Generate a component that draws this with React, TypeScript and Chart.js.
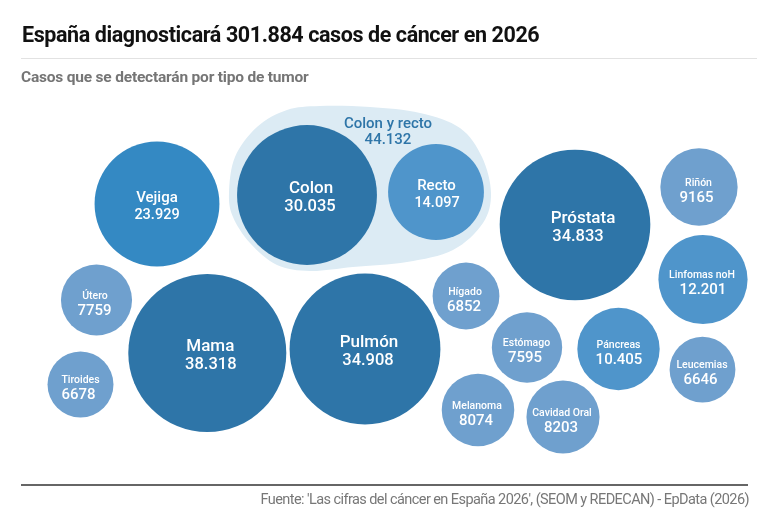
import React, { useEffect, useRef } from "react";
import { Chart, registerables } from "chart.js";

Chart.register(...registerables);

const titleText = "España diagnosticará 301.884 casos de cáncer en 2026";
const subtitleText = "Casos que se detectarán por tipo de tumor";
const sourceText = "Fuente: 'Las cifras del cáncer en España 2026', (SEOM y REDECAN) - EpData (2026)";

const tumors = ["Vejiga", "Colon", "Recto", "Próstata", "Riñón", "Linfomas noH", "Leucemias", "Páncreas", "Estómago", "Hígado", "Melanoma", "Cavidad Oral", "Pulmón", "Mama", "Útero", "Tiroides"];
const cases = [23929, 30035, 14097, 34833, 9165, 12201, 6646, 10405, 7595, 6852, 8074, 8203, 34908, 38318, 7759, 6678];
const caseLabels = ["23.929", "30.035", "14.097", "34.833", "9165", "12.201", "6646", "10.405", "7595", "6852", "8074", "8203", "34.908", "38.318", "7759", "6678"];
const layoutX = [157, 307, 436, 575, 699, 703, 702.5, 618.5, 527, 466, 478, 563, 365, 207.3, 96.5, 80.5];
const layoutY = [204, 195, 192, 225, 187, 279.5, 369.7, 349, 347.5, 296, 410, 417, 349, 353, 300, 384.5];
const nameNudgeX = [0, 4, 0.5, 8, -0.5, -1, -0.5, 0, -0.5, -1, -1, -1, 4, 3, -1.5, 0];
const valueNudgeX = [0, 3, 1, 3, -2.5, 0, -2, 0.5, -2, -2, -2, -2, 3, 3.5, -2, -2];

const groupLabel = "Colon y recto";
const groupValue = "44.132";
const groupOutlineX = [229, 235, 257, 287, 320, 370, 420, 460, 482, 491, 483, 453, 407, 353, 310, 277, 250, 233];
const groupOutlineY = [193, 157, 127, 110, 106, 107, 113, 128, 157, 193, 223, 250, 262, 267, 271, 265, 243, 217];

const RADIUS_PER_ROOT = 0.4036;
const FONT = "Roboto, 'Liberation Sans', sans-serif";

function tierColor(v: number) {
  if (v >= 30000) return "#2e75a8";
  if (v >= 20000) return "#3489c3";
  if (v >= 10000) return "#4f95cb";
  return "#6fa0ce";
}

function labelFonts(v: number) {
  if (v >= 30000) return { label: 17, value: 16.5, up: 6, down: 11.5 };
  if (v >= 14000) return { label: 15, value: 14.5, up: 6, down: 11.5 };
  return { label: 10.5, value: 15, up: 4, down: 11 };
}

const groupPlugin = {
  id: "groupBlob",
  beforeDatasetsDraw(chart: any) {
    const { ctx, scales } = chart;
    const pts = groupOutlineX.map((x, i) => ({ x: scales.x.getPixelForValue(x), y: scales.y.getPixelForValue(groupOutlineY[i]) }));
    const n = pts.length;
    ctx.save();
    ctx.beginPath();
    ctx.moveTo(pts[0].x, pts[0].y);
    for (let i = 0; i < n; i++) {
      const p0 = pts[(i - 1 + n) % n], p1 = pts[i], p2 = pts[(i + 1) % n], p3 = pts[(i + 2) % n];
      ctx.bezierCurveTo(
        p1.x + (p2.x - p0.x) / 6, p1.y + (p2.y - p0.y) / 6,
        p2.x - (p3.x - p1.x) / 6, p2.y - (p3.y - p1.y) / 6,
        p2.x, p2.y
      );
    }
    ctx.closePath();
    ctx.fillStyle = "#dcebf4";
    ctx.fill();
    ctx.restore();
  },
};

const labelPlugin = {
  id: "bubbleLabels",
  afterDatasetsDraw(chart: any) {
    const { ctx, scales } = chart;
    ctx.save();
    ctx.textAlign = "center";
    ctx.textBaseline = "middle";
    tumors.forEach((name, i) => {
      const px = scales.x.getPixelForValue(layoutX[i]);
      const py = scales.y.getPixelForValue(layoutY[i]);
      const f = labelFonts(cases[i]);
      ctx.fillStyle = "#ffffff";
      ctx.font = `500 ${f.label}px ${FONT}`;
      ctx.fillText(name, px + nameNudgeX[i], py - f.up);
      ctx.font = `500 ${f.value}px ${FONT}`;
      ctx.fillText(caseLabels[i], px + valueNudgeX[i], py + f.down);
    });
    ctx.fillStyle = "#2e75a8";
    ctx.font = `500 15px ${FONT}`;
    ctx.fillText(groupLabel, scales.x.getPixelForValue(388), scales.y.getPixelForValue(124.5));
    ctx.fillText(groupValue, scales.x.getPixelForValue(388), scales.y.getPixelForValue(140.5));
    ctx.restore();
  },
};

const textBase: React.CSSProperties = { position: "absolute", fontFamily: FONT, whiteSpace: "nowrap", margin: 0 };

export default function App() {
  const ref = useRef<HTMLCanvasElement>(null);
  useEffect(() => {
    const chart = new Chart(ref.current as HTMLCanvasElement, {
      type: "bubble",
      data: {
        datasets: [
          {
            label: "Casos",
            data: tumors.map((_, i) => ({ x: layoutX[i], y: layoutY[i], r: RADIUS_PER_ROOT * Math.sqrt(cases[i]) })),
            backgroundColor: cases.map(tierColor),
            borderWidth: 0,
            hoverBorderWidth: 0,
            clip: false,
          },
        ],
      },
      options: {
        animation: false,
        responsive: false,
        devicePixelRatio: 1,
        layout: { padding: 0, autoPadding: false },
        plugins: { legend: { display: false }, title: { display: false }, tooltip: { enabled: false } },
        scales: {
          x: { type: "linear", min: 0, max: 768, display: false },
          y: { type: "linear", min: 0, max: 526, reverse: true, display: false },
        },
      } as any,
      plugins: [groupPlugin, labelPlugin],
    });
    return () => chart.destroy();
  }, []);
  return (
    <div style={{ position: "fixed", left: 0, top: 0, width: 768, height: 526, background: "#fff", overflow: "hidden" }}>
      <canvas ref={ref} width={768} height={526} style={{ position: "absolute", left: 0, top: 0, width: 768, height: 526 }} />
      <div style={{ ...textBase, left: 22, top: 21, fontSize: 21.5, lineHeight: "28px", fontWeight: 700, color: "#111", letterSpacing: -0.41 }}>{titleText}</div>
      <div style={{ position: "absolute", left: 21, top: 58, width: 736, height: 1, background: "#e2e2e2" }} />
      <div style={{ ...textBase, left: 21, top: 67, fontSize: 15.5, lineHeight: "20px", fontWeight: 700, color: "#757575", letterSpacing: -0.2 }}>{subtitleText}</div>
      <div style={{ position: "absolute", left: 21, top: 484, width: 727, height: 1.5, background: "#666" }} />
      <div style={{ ...textBase, right: 19, top: 490, fontSize: 14.5, lineHeight: "20px", fontWeight: 400, color: "#777", letterSpacing: -0.57 }}>{sourceText}</div>
    </div>
  );
}
